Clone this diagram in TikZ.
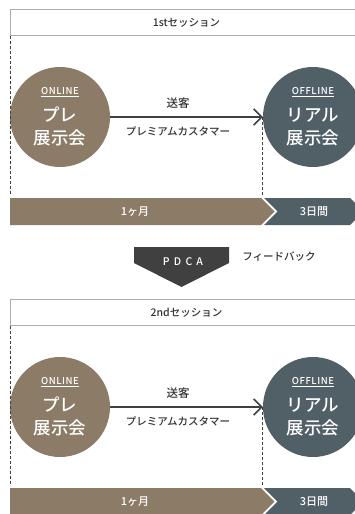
\documentclass[tikz,border=0pt]{standalone}
\usepackage{fontspec}
\setmainfont{Noto Sans CJK JP}[BoldFont={Noto Sans CJK JP Medium}]
\usetikzlibrary{positioning,arrows.meta}
\definecolor{onlinecol}{RGB}{140,123,102}
\definecolor{offlinecol}{RGB}{81,95,103}
\definecolor{darkcol}{RGB}{64,64,64}
\definecolor{framecol}{RGB}{172,172,172}
\definecolor{textcol}{RGB}{50,50,50}
\newcommand{\tagfont}{\fontsize{9.5}{11}\selectfont\addfontfeature{LetterSpace=6}}

\tikzset{
  sessionbox/.style={rectangle,draw=framecol,line width=1pt,anchor=north west,minimum width=352,minimum height=26,inner sep=0pt,text=textcol,font=\fontsize{10.5}{12}\selectfont\bfseries},
  eventcircle/.style={circle,minimum size=100,inner sep=0pt,text=white,align=center,font=\fontsize{17.5}{23}\selectfont\bfseries},
  flowlabel/.style={inner sep=0pt,text=textcol,font=\fontsize{10.5}{12}\selectfont\bfseries},
  bartext/.style={inner sep=0pt,text=white,font=\fontsize{11}{13}\selectfont\bfseries},
  sendarrow/.style={draw=darkcol,line width=1.6pt,-{Straight Barb[length=8pt,width=16pt]}},
  guide/.style={draw=darkcol,line width=0.8pt,dash pattern=on 3pt off 2pt}
}

\begin{document}
\begin{tikzpicture}[x=1pt,y=-1pt]
\useasboundingbox (0,0) rectangle (354,514);

\foreach \s/\name/\dy in {1/1st/0,2/2nd/290}{
  % session header
  \node[sessionbox] (title\s) at (10,9+\dy) {\name セッション};

  % bars
  \fill[onlinecol] (10,198+\dy) -- (261,198+\dy) -- (274.5,211.5+\dy) -- (261,225+\dy) -- (10,225+\dy) -- cycle;
  \fill[offlinecol] (264,198+\dy) -- (350,198+\dy) -- (363.5,211.5+\dy) -- (350,225+\dy) -- (264,225+\dy) -- (277.5,211.5+\dy) -- cycle;
  \node[bartext] (month\s) at (135,211.5+\dy) {1ヶ月};
  \node[bartext] (days\s) at (314,211.5+\dy) {3日間};
  \coordinate (bartop\s) at (0,196+\dy);

  % events
  \node[eventcircle,fill=onlinecol] (pre\s) at (60,117+\dy) {{\tagfont\underline{ONLINE}}\\[4pt]プレ\\展示会};
  \node[eventcircle,fill=offlinecol] (real\s) at (313,117+\dy) {{\tagfont\underline{OFFLINE}}\\[4pt]リアル\\展示会};

  % guides
  \draw[guide] (title\s.south west) -- (title\s.south west |- bartop\s);
  \draw[guide] (real\s.west) -- (real\s.west |- bartop\s);

  % flow
  \draw[sendarrow] (pre\s) -- (real\s);
  \node[flowlabel] (send\s) at (178,103+\dy) {\fontsize{11.5}{13}\selectfont 送客};
  \node[flowlabel] (guest\s) at (178,131+\dy) {プレミアムカスタマー};
}

% feedback
\fill[darkcol] (134,247) -- (229,247) -- (229,263) -- (181.5,287) -- (134,263) -- cycle;
\node[bartext,font=\fontsize{10.5}{12}\selectfont\bfseries\addfontfeature{LetterSpace=40}] (pdca) at (183,262) {PDCA};
\node[flowlabel] (feedback) at (279,257) {フィードバック};

\end{tikzpicture}
\end{document}
